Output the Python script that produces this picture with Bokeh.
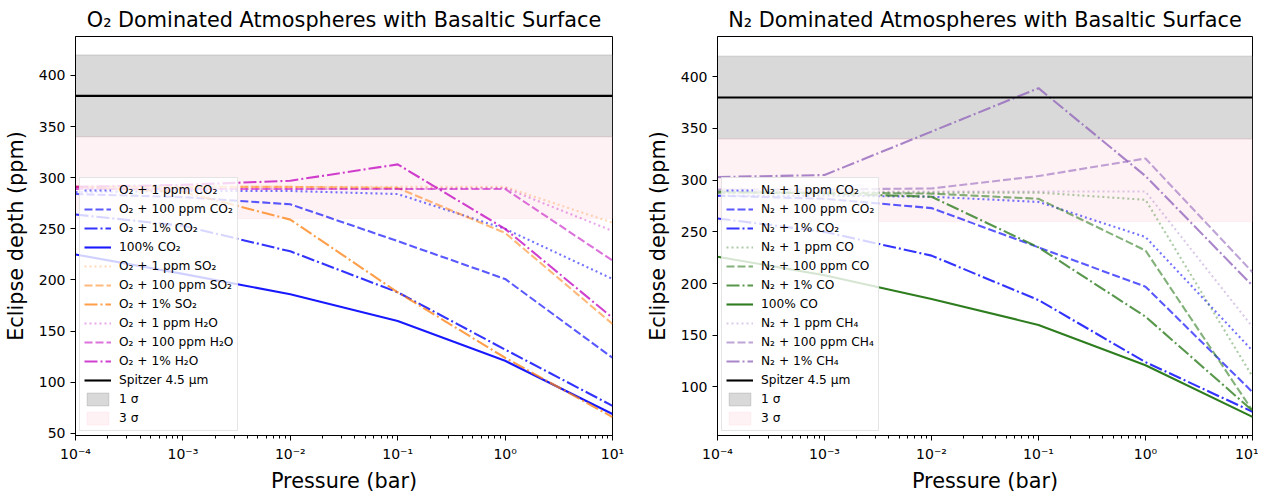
from bokeh.plotting import figure
from bokeh.layouts import row
from bokeh.models import (Range1d, Legend, LegendItem, LogTicker, SingleIntervalTicker,
                          CustomJSTickFormatter)
from bokeh.embed import file_html
from bokeh.resources import INLINE

# ---------------- data ----------------
pressure = [1e-4, 1e-3, 1e-2, 1e-1, 1, 10]

# O2 dominated atmospheres (ppm)
o2_co2_1ppm = [286, 287, 287, 284, 250, 201]
o2_co2_100ppm = [284, 281, 274, 238, 201, 124]
o2_co2_1pct = [264, 253, 228, 188, 132, 77]
o2_co2_100pct = [225, 206, 186, 160, 121, 69]
o2_so2_1ppm = [291, 291, 291, 291, 291, 256]
o2_so2_100ppm = [291, 291, 291, 290, 246, 157]
o2_so2_1pct = [291, 286, 259, 188, 124, 66]
o2_h2o_1ppm = [289, 289, 289, 289, 290, 248]
o2_h2o_100ppm = [289, 289, 289, 289, 289, 219]
o2_h2o_1pct = [291, 293, 297, 313, 250, 163]

# N2 dominated atmospheres (ppm)
n2_co2_1ppm = [285, 285, 284, 279, 245, 135]
n2_co2_100ppm = [285, 282, 273, 235, 197, 95]
n2_co2_1pct = [263, 250, 227, 184, 124, 76]
n2_co_1ppm = [288, 288, 288, 288, 281, 110]
n2_co_100ppm = [288, 288, 287, 282, 232, 77]
n2_co_1pct = [289, 287, 284, 235, 168, 77]
n2_co_100pct = [226, 208, 185, 160, 121, 71]
n2_ch4_1ppm = [289, 289, 289, 289, 289, 158]
n2_ch4_100ppm = [291, 291, 292, 304, 321, 211]
n2_ch4_1pct = [303, 305, 347, 389, 304, 198]

spitzer_depth = [380, 380]
sigma1_band = [340, 420]
sigma3_band = [260, 340]

x_limits = [1e-4, 10]
y_limits_o2 = [48, 438]
y_limits_n2 = [53, 439]
y_tick_step = 50

# ---------------- styles ----------------
FONT = "DejaVu Sans"
DOT, DASH, DASHDOT, SOLID = "2 3", "8 3", "13 3 2 3", "solid"
BLUE = "#0000ff"
ORANGE = "#ff7f0e"
MAGENTA = "#bf00bf"
GREEN = "#2e7d1f"
PURPLE = "#9467bd"

o2_series = [
    ("O₂ + 1 ppm CO₂", o2_co2_1ppm, BLUE, 0.55, DOT),
    ("O₂ + 100 ppm CO₂", o2_co2_100ppm, BLUE, 0.65, DASH),
    ("O₂ + 1% CO₂", o2_co2_1pct, BLUE, 0.8, DASHDOT),
    ("100% CO₂", o2_co2_100pct, BLUE, 0.9, SOLID),
    ("O₂ + 1 ppm SO₂", o2_so2_1ppm, ORANGE, 0.3, DOT),
    ("O₂ + 100 ppm SO₂", o2_so2_100ppm, ORANGE, 0.55, DASH),
    ("O₂ + 1% SO₂", o2_so2_1pct, ORANGE, 0.75, DASHDOT),
    ("O₂ + 1 ppm H₂O", o2_h2o_1ppm, MAGENTA, 0.35, DOT),
    ("O₂ + 100 ppm H₂O", o2_h2o_100ppm, MAGENTA, 0.55, DASH),
    ("O₂ + 1% H₂O", o2_h2o_1pct, MAGENTA, 0.75, DASHDOT),
]

n2_series = [
    ("N₂ + 1 ppm CO₂", n2_co2_1ppm, BLUE, 0.55, DOT),
    ("N₂ + 100 ppm CO₂", n2_co2_100ppm, BLUE, 0.65, DASH),
    ("N₂ + 1% CO₂", n2_co2_1pct, BLUE, 0.8, DASHDOT),
    ("N₂ + 1 ppm CO", n2_co_1ppm, GREEN, 0.4, DOT),
    ("N₂ + 100 ppm CO", n2_co_100ppm, GREEN, 0.6, DASH),
    ("N₂ + 1% CO", n2_co_1pct, GREEN, 0.8, DASHDOT),
    ("100% CO", n2_co_100pct, GREEN, 1.0, SOLID),
    ("N₂ + 1 ppm CH₄", n2_ch4_1ppm, PURPLE, 0.35, DOT),
    ("N₂ + 100 ppm CH₄", n2_ch4_100ppm, PURPLE, 0.6, DASH),
    ("N₂ + 1% CH₄", n2_ch4_1pct, PURPLE, 0.8, DASHDOT),
]

SUP_JS = """
const e = Math.round(Math.log10(tick));
const sup = {'-':'\u207b','0':'\u2070','1':'\u00b9','2':'\u00b2','3':'\u00b3','4':'\u2074',
             '5':'\u2075','6':'\u2076','7':'\u2077','8':'\u2078','9':'\u2079'};
return '10' + String(e).split('').map(c => sup[c]).join('');
"""


def make_panel(title, series, ylim, frame_w, b_left, b_right):
    p = figure(x_axis_type="log",
               x_range=Range1d(x_limits[0], x_limits[1]),
               y_range=Range1d(ylim[0], ylim[1]),
               frame_width=frame_w, frame_height=399,
               min_border_left=b_left, min_border_right=b_right,
               min_border_top=35, min_border_bottom=40,
               output_backend="svg", toolbar_location=None,
               title=title, background_fill_color="white",
               border_fill_color="white")
    p.title.text_font = FONT
    p.title.text_font_size = "20.8px"
    p.title.text_font_style = "normal"
    p.title.align = "center"
    p.title.text_color = "black"

    p.xgrid.visible = False
    p.ygrid.visible = False
    p.outline_line_color = "black"
    p.outline_line_width = 1
    p.outline_line_alpha = 1

    # bands
    r_s1 = p.quad(left=[x_limits[0]], right=[x_limits[1]],
                  bottom=[sigma1_band[0]], top=[sigma1_band[1]],
                  fill_color="gray", fill_alpha=0.3,
                  line_color="gray", line_alpha=0.3, line_width=1)
    r_s3 = p.quad(left=[x_limits[0]], right=[x_limits[1]],
                  bottom=[sigma3_band[0]], top=[sigma3_band[1]],
                  fill_color="pink", fill_alpha=0.2,
                  line_color="pink", line_alpha=0.2, line_width=1)

    items = []
    for label, vals, color, alpha, dash in series:
        r = p.line(pressure, vals, line_color=color, line_alpha=alpha,
                   line_dash=dash, line_width=2.1)
        items.append(LegendItem(label=label, renderers=[r]))

    r_sp = p.line(x_limits, spitzer_depth, line_color="black", line_width=2.1)
    items.append(LegendItem(label="Spitzer 4.5 μm", renderers=[r_sp]))
    items.append(LegendItem(label="1 σ", renderers=[r_s1]))
    items.append(LegendItem(label="3 σ", renderers=[r_s3]))

    legend = Legend(items=items, location="bottom_left")
    legend.label_text_font = FONT
    legend.label_text_font_size = "12.2px"
    legend.label_text_color = "black"
    legend.glyph_width = 27
    legend.glyph_height = 16
    legend.label_height = 16
    legend.label_standoff = 8
    legend.spacing = 3
    legend.padding = 4
    legend.margin = 4
    legend.border_line_color = "#cccccc"
    legend.border_line_width = 1
    legend.background_fill_color = "white"
    legend.background_fill_alpha = 0.8
    p.add_layout(legend)

    # axes
    xa = p.xaxis[0]
    xa.ticker = LogTicker(num_minor_ticks=10)
    xa.formatter = CustomJSTickFormatter(code=SUP_JS)
    xa.axis_label = "Pressure (bar)"
    ya = p.yaxis[0]
    ya.ticker = SingleIntervalTicker(interval=y_tick_step, num_minor_ticks=0)
    ya.axis_label = "Eclipse depth (ppm)"
    for ax in (xa, ya):
        ax.axis_label_text_font = FONT
        ax.axis_label_text_font_size = "20.8px"
        ax.axis_label_text_font_style = "normal"
        ax.axis_label_text_color = "black"
        ax.major_label_text_font = FONT
        ax.major_label_text_font_size = "14px"
        ax.major_label_text_color = "black"
        ax.axis_line_color = "black"
        ax.major_tick_line_color = "black"
        ax.minor_tick_line_color = "black"
        ax.major_tick_out = 5
        ax.major_tick_in = 0
        ax.minor_tick_out = 3
        ax.minor_tick_in = 0
        ax.major_label_standoff = 5
    ya.axis_label_standoff = 8
    xa.axis_label_standoff = 4
    return p


p1 = make_panel("O₂ Dominated Atmospheres with Basaltic Surface", o2_series,
                y_limits_o2, 537, 75, 30)
p2 = make_panel("N₂ Dominated Atmospheres with Basaltic Surface", n2_series,
                y_limits_n2, 535, 69, 6)

layout = row(p1, p2)
open("out.html", "w").write(file_html(layout, INLINE))
